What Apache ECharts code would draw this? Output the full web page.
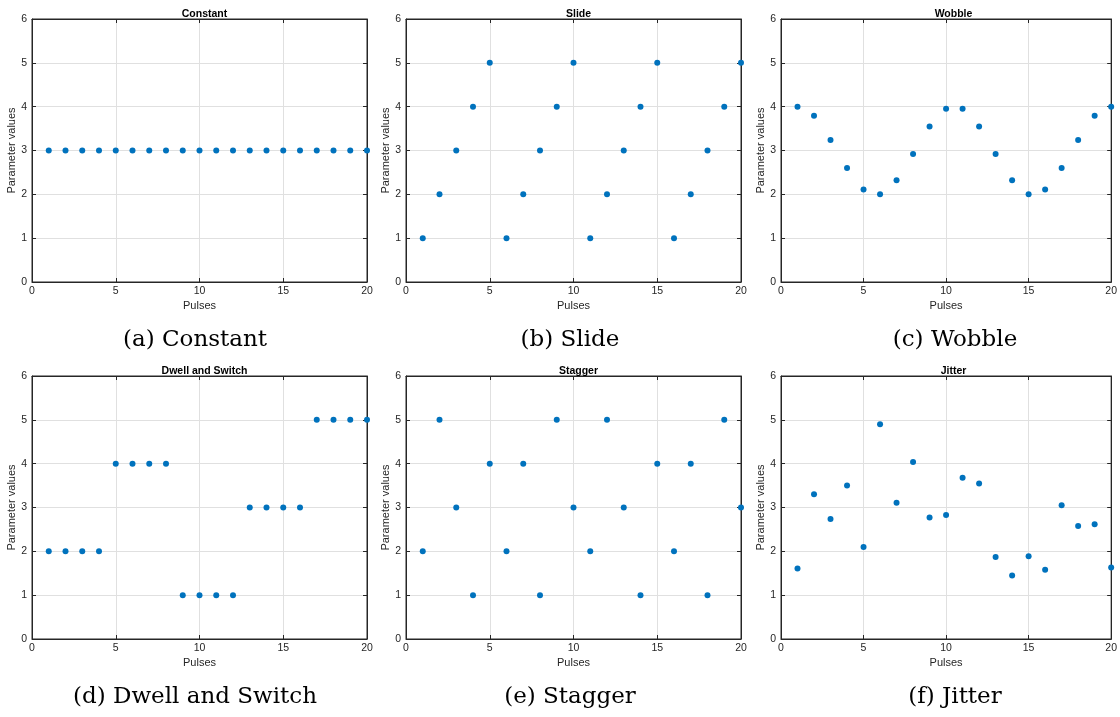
<!DOCTYPE html>
<html><head><meta charset="utf-8">
<script src="https://cdn.jsdelivr.net/npm/echarts@6/dist/echarts.min.js"></script>
<style>html,body{margin:0;padding:0;background:#fff}#c{width:1120px;height:717px}</style>
</head><body><div id="c"></div>
<script>
const pulses = [1,2,3,4,5,6,7,8,9,10,11,12,13,14,15,16,17,18,19,20];
const constantVals = [3,3,3,3,3,3,3,3,3,3,3,3,3,3,3,3,3,3,3,3];
const slideVals = [1,2,3,4,5,1,2,3,4,5,1,2,3,4,5,1,2,3,4,5];
const wobbleVals = [4.00,3.79,3.24,2.60,2.11,2.00,2.32,2.92,3.55,3.95,3.95,3.55,2.92,2.32,2.00,2.11,2.60,3.24,3.79,4.00];
const dwellVals = [2,2,2,2,4,4,4,4,1,1,1,1,3,3,3,3,5,5,5,5];
const staggerVals = [2,5,3,1,4,2,4,1,5,3,2,5,3,1,4,2,4,1,5,3];
const jitterVals = [1.61,3.30,2.74,3.50,2.10,4.90,3.11,4.04,2.77,2.83,3.68,3.55,1.87,1.45,1.89,1.58,3.05,2.58,2.62,1.63];
const titles = ['Constant','Slide','Wobble','Dwell and Switch','Stagger','Jitter'];
const captions = ['(a) Constant','(b) Slide','(c) Wobble','(d) Dwell and Switch','(e) Stagger','(f) Jitter'];
const xTicks = [0,5,10,15,20];
const yTicks = [0,1,2,3,4,5,6];
const seriesVals = [constantVals, slideVals, wobbleVals, dwellVals, staggerVals, jitterVals];

const lefts = [32, 406, 781];
const capCenters = [190, 565, 950];
const W = 335;
const tops = [19, 376];
const H = 263;
const font = 'Liberation Sans, Arial, sans-serif';
const axisCol = '#262626';

const grid = [], xAxis = [], yAxis = [], series = [], title = [];
for (let p = 0; p < 6; p++) {
  const r = Math.floor(p/3), c = p%3;
  grid.push({left: lefts[c], top: tops[r], width: W, height: H, show: true, borderColor: axisCol, borderWidth: 1, backgroundColor: '#fff'});
  xAxis.push({type:'value', gridIndex:p, min:xTicks[0], max:xTicks[xTicks.length-1], interval:5, position:'bottom',
    name:'Pulses', nameLocation:'middle', nameGap:18, nameTextStyle:{fontFamily:font, fontSize:11, color:axisCol},
    axisLine:{show:true, onZero:false, lineStyle:{color:axisCol}},
    axisTick:{show:true, inside:true, length:4, lineStyle:{color:axisCol}},
    axisLabel:{fontFamily:font, fontSize:10.5, color:axisCol, margin:4},
    splitLine:{show:true, lineStyle:{color:'#e0e0e0', width:1}}});
  yAxis.push({type:'value', gridIndex:p, min:yTicks[0], max:yTicks[yTicks.length-1], interval:1, position:'left',
    name:'Parameter values', nameLocation:'middle', nameGap:14, nameTextStyle:{fontFamily:font, fontSize:11, color:axisCol},
    axisLine:{show:true, onZero:false, lineStyle:{color:axisCol}},
    axisTick:{show:true, inside:true, length:4, lineStyle:{color:axisCol}},
    axisLabel:{fontFamily:font, fontSize:10.5, color:axisCol, margin:5},
    splitLine:{show:true, lineStyle:{color:'#e0e0e0', width:1}}});
  const xi = xAxis.length - 1, yi = yAxis.length - 1;
  xAxis.push({type:'value', gridIndex:p, min:0, max:20, interval:5, position:'top',
    axisLine:{show:true, onZero:false, lineStyle:{color:axisCol}},
    axisTick:{show:true, inside:true, length:4, lineStyle:{color:axisCol}},
    axisLabel:{show:false}, splitLine:{show:false}});
  yAxis.push({type:'value', gridIndex:p, min:0, max:6, interval:1, position:'right',
    axisLine:{show:true, onZero:false, lineStyle:{color:axisCol}},
    axisTick:{show:true, inside:true, length:4, lineStyle:{color:axisCol}},
    axisLabel:{show:false}, splitLine:{show:false}});
  series.push({type:'scatter', xAxisIndex:xi, yAxisIndex:yi, symbolSize:6, clip:false,
    itemStyle:{color:'#0072BD', opacity:1}, silent:true,
    data: pulses.map((x,i)=>[x, seriesVals[p][i]])});
  title.push({text: titles[p], left: lefts[c] + W/2, top: tops[r] - 15, textAlign:'center',
    textStyle:{fontFamily:font, fontSize:10.5, fontWeight:'bold', color:'#000'}});
  title.push({text: captions[p], left: capCenters[c], top: tops[r] + H + 42, textAlign:'center',
    textStyle:{fontFamily:'DejaVu Serif, Liberation Serif, serif', fontSize:23, fontWeight:'normal', color:'#000'}});
}

const chart = echarts.init(document.getElementById('c'), null, {renderer:'canvas'});
chart.setOption({animation:false, backgroundColor:'#fff', title, grid, xAxis, yAxis, series});
</script></body></html>
